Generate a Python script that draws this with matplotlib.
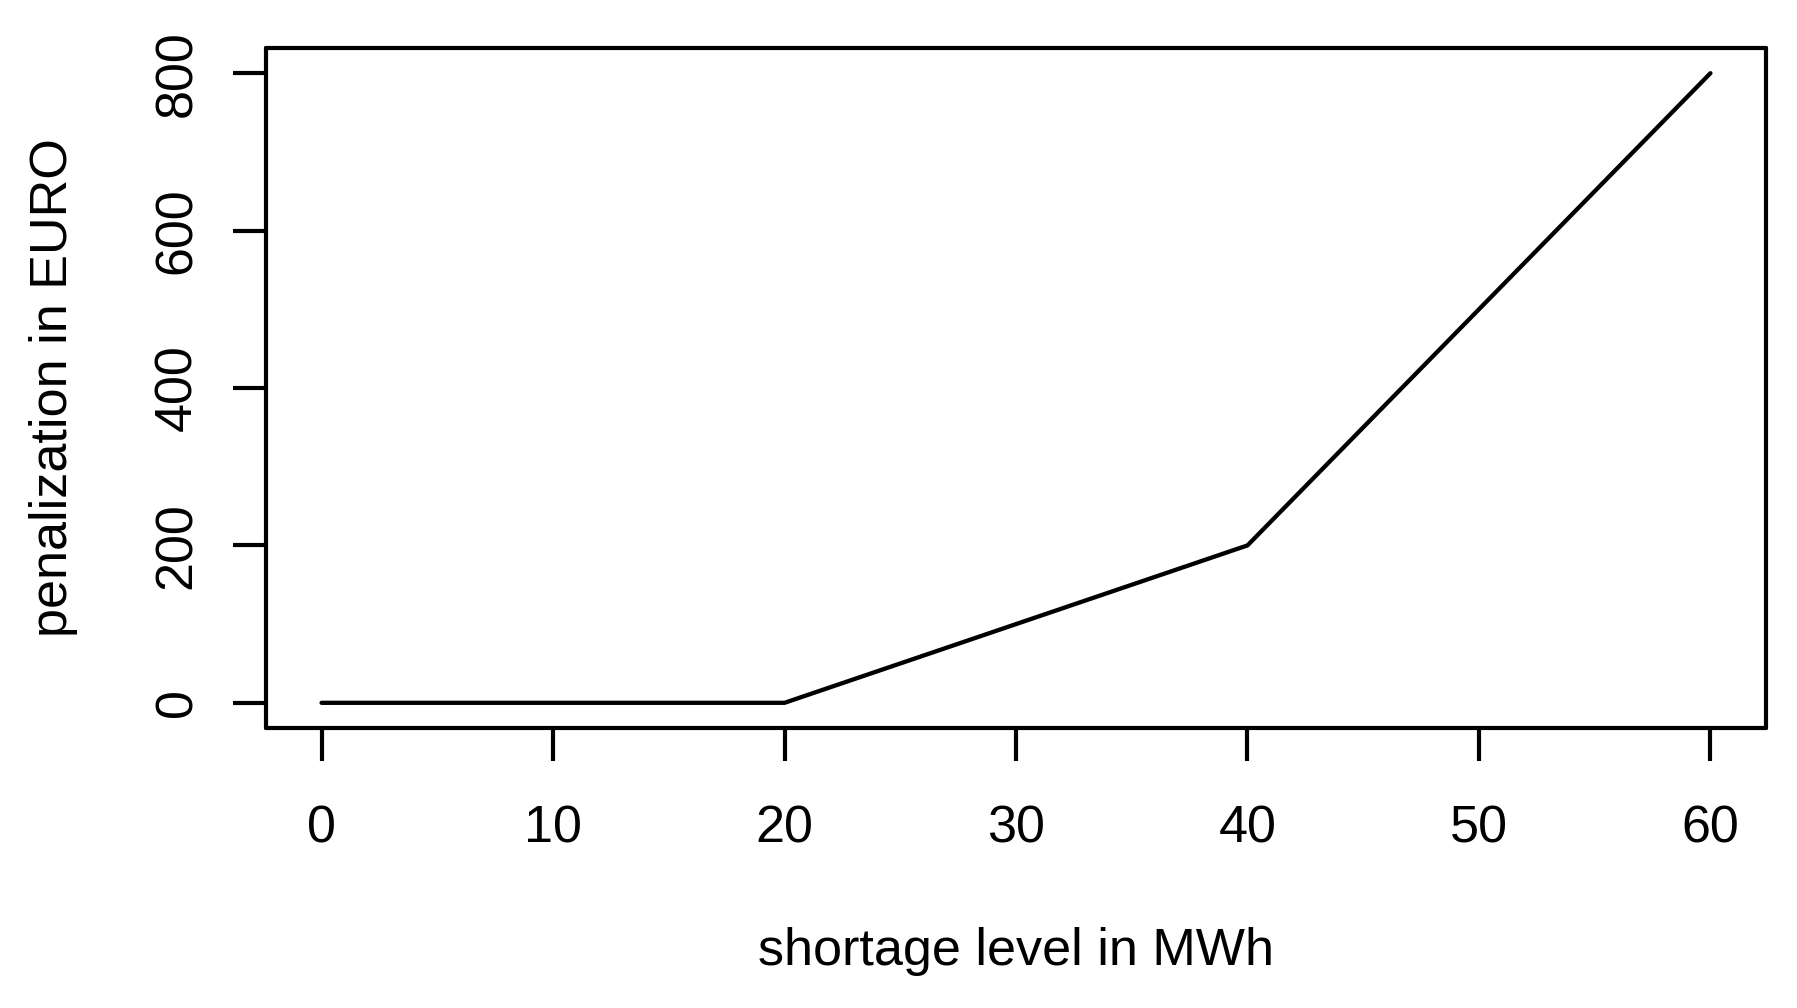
import matplotlib
matplotlib.use("Agg")
import matplotlib.pyplot as plt

plt.rcParams['font.family'] = ['Liberation Sans', 'DejaVu Sans']

shortage_mwh = [0, 10, 20, 30, 40, 50, 60]
penalty_euro = [0, 0, 0, 100, 200, 500, 800]
x_ticks = [0, 10, 20, 30, 40, 50, 60]
y_ticks = [0, 200, 400, 600, 800]

W, H = 1797, 1008
fig = plt.figure(figsize=(W / 100, H / 100), dpi=100)
ax = fig.add_axes([266 / W, 1 - 728 / H, 1500 / W, 680 / H])

ax.plot(shortage_mwh, penalty_euro, color='black', linewidth=3.1,
        solid_capstyle='round', solid_joinstyle='round')

# R-style 4% padding around the data range
ax.set_xlim(-2.4, 62.4)
ax.set_ylim(-32, 832)
ax.set_xticks(x_ticks)
ax.set_yticks(y_ticks)

for s in ax.spines.values():
    s.set_linewidth(3.0)
    s.set_capstyle('round')

ax.tick_params(axis='both', direction='out', length=24, width=3.0,
               labelsize=37.5, color='black')
ax.tick_params(axis='x', pad=31)
ax.tick_params(axis='y', pad=22)
for lab in ax.get_yticklabels():
    lab.set_rotation(90)
    lab.set_va('center')

ax.set_xlabel('shortage level in MWh', fontsize=37.5, va='center')
ax.xaxis.set_label_coords(0.5, (728 - 951) / 680)
ax.set_ylabel('penalization in EURO', fontsize=37.5, va='center')
ax.yaxis.set_label_coords((54 - 266) / 1500, 0.5)

fig.savefig('out.png', dpi=100, facecolor='white')
